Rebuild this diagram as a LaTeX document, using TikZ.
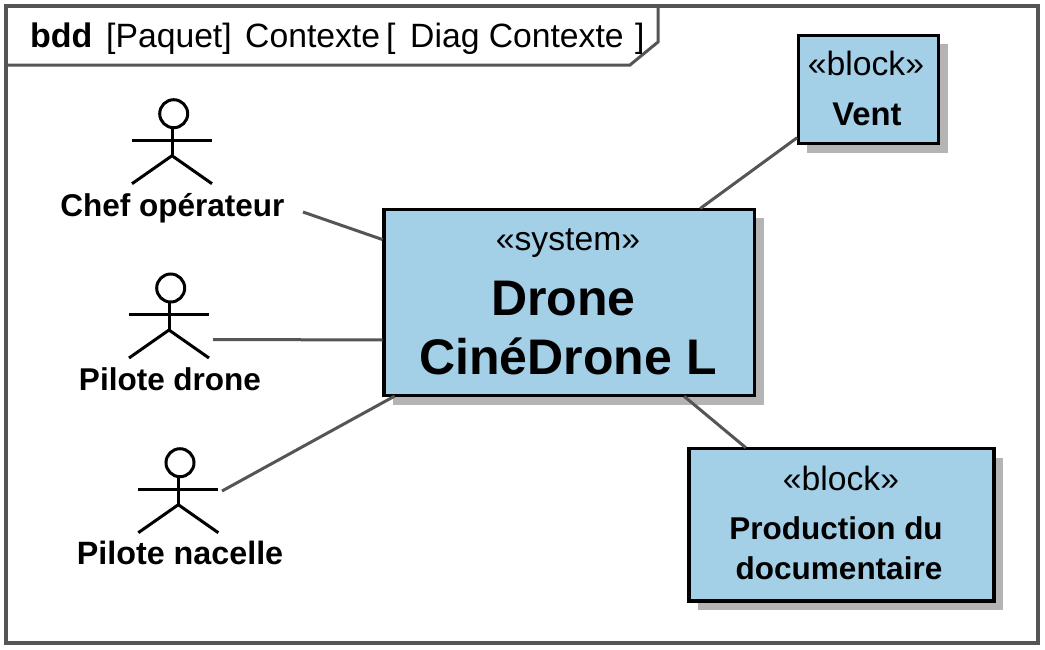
\documentclass[tikz,border=0pt]{standalone}
\usepackage{fontspec}
\usetikzlibrary{calc}
\setmainfont{Liberation Sans}
\definecolor{boxblue}{HTML}{A3CFE7}
\definecolor{shade}{HTML}{B4B4B4}
\definecolor{framegray}{HTML}{555555}
\tikzset{
  x=1pt,y=-1pt,
  blockbox/.style={draw=black,fill=boxblue,line width=3.2pt,rectangle,outer sep=0pt,inner sep=0pt,minimum width=#1},
  shadowbox/.style={fill=shade,draw=none},
  conn/.style={draw=framegray,line width=3pt},
  actorline/.style={draw=black,line width=3pt},
  txt/.style={inner sep=0pt,anchor=base},
  lightfont/.style={font=\fontsize{33.7}{36}\selectfont},
  boldfont/.style={font=\fontsize{31.5}{34}\selectfont\bfseries},
  bigfont/.style={font=\fontsize{50}{54}\selectfont\bfseries},
}
\newcommand{\stickman}[3]{%
  \begin{scope}[shift={(#1,#2)}]
    \node[circle,draw=black,fill=white,line width=3pt,minimum size=28pt,inner sep=0pt,outer sep=0pt] (#3head) at (1.7,0) {};
    \draw[actorline] (0,14) -- (0,42);
    \draw[actorline] (-40,26.5) -- (40,26.5);
    \draw[actorline] (-40,70) -- (0,42) -- (40,70);
  \end{scope}}
\begin{document}
\begin{tikzpicture}
\useasboundingbox (0,0) rectangle (1045,649);
\fill[white] (0,0) rectangle (1045,649);
% frame
\draw[framegray,line width=3.6pt] (6.2,5.8) rectangle (1038,643);
\draw[framegray,line width=3pt] (6,65) -- (630,65) -- (658,42) -- (658,6);
\node[txt,anchor=base west,font=\fontsize{34}{36}\selectfont\bfseries] (t1) at (30,47.6) {bdd};
\node[txt,anchor=base west,lightfont] (t2) at (106,47.6) {[Paquet]};
\node[txt,anchor=base west,lightfont] (t3) at (245,47.6) {Contexte};
\node[txt,anchor=base west,lightfont] (t4) at (386,47.6) {[};
\node[txt,anchor=base west,lightfont] (t5) at (410,47.6) {Diag Contexte};
\node[txt,anchor=base west,lightfont] (t6) at (635,47.6) {]};
% shadows
\fill[shadowbox] (393.3,218) rectangle (763.5,405);
\fill[shadowbox] (807,44) rectangle (947.5,153);
\fill[shadowbox] (698.3,458) rectangle (1003.3,610);
% blocks
\node[blockbox=370.5pt,minimum height=186pt] (sys) at (569.3,302.4) {};
\node[blockbox=140pt,minimum height=108pt] (vent) at (868.3,89.3) {};
\node[blockbox=305pt,minimum height=152.3pt] (prod) at (841.5,524.8) {};
\node[txt,lightfont] (sysS) at (568,250) {«system»};
\node[txt,bigfont] (sysA) at (563.5,315.5) {Drone};
\node[txt,bigfont] (sysB) at (568,374.5) {CinéDrone L};
\node[txt,lightfont] (ventS) at (866,75) {«block»};
\node[txt,font=\fontsize{32.8}{34}\selectfont\bfseries] (ventN) at (867,125.5) {Vent};
\node[txt,lightfont] (prodS) at (841,490) {«block»};
\node[txt,boldfont] (prodA) at (836,539) {Production du};
\node[txt,boldfont] (prodB) at (839,579) {documentaire};
% actors
\stickman{172}{113.7}{chef}
\stickman{169}{288}{pilote}
\stickman{178.3}{462.7}{nacelle}
\node[txt,boldfont] (chefL) at (172.5,216) {Chef opérateur};
\node[txt,boldfont] (piloteL) at (170,390) {Pilote drone};
\node[txt,font=\fontsize{32.3}{34}\selectfont\bfseries] (nacelleL) at (180,564) {Pilote nacelle};
% connectors
\coordinate (chefEnd) at (303,212);
\coordinate (piloteEnd) at (213,339.5);
\coordinate (nacelleEnd) at (222,491);
\draw[conn,shorten >=1.5pt] (chefEnd) -- ($(sys.north west)!0.165!(sys.south west)$);
\draw[conn,shorten >=1.5pt] (piloteEnd) -- ($(sys.north west)!0.702!(sys.south west)$);
\draw[conn,shorten >=1.5pt] (nacelleEnd) -- ($(sys.south west)!0.032!(sys.south east)$);
\draw[conn,shorten <=1.5pt,shorten >=1.5pt] ($(sys.north west)!0.85!(sys.north east)$) -- ($(vent.north west)!0.94!(vent.south west)$);
\draw[conn,shorten <=1.5pt,shorten >=1.5pt] ($(sys.south west)!0.807!(sys.south east)$) -- ($(prod.north west)!0.19!(prod.north east)$);
\end{tikzpicture}
\end{document}
